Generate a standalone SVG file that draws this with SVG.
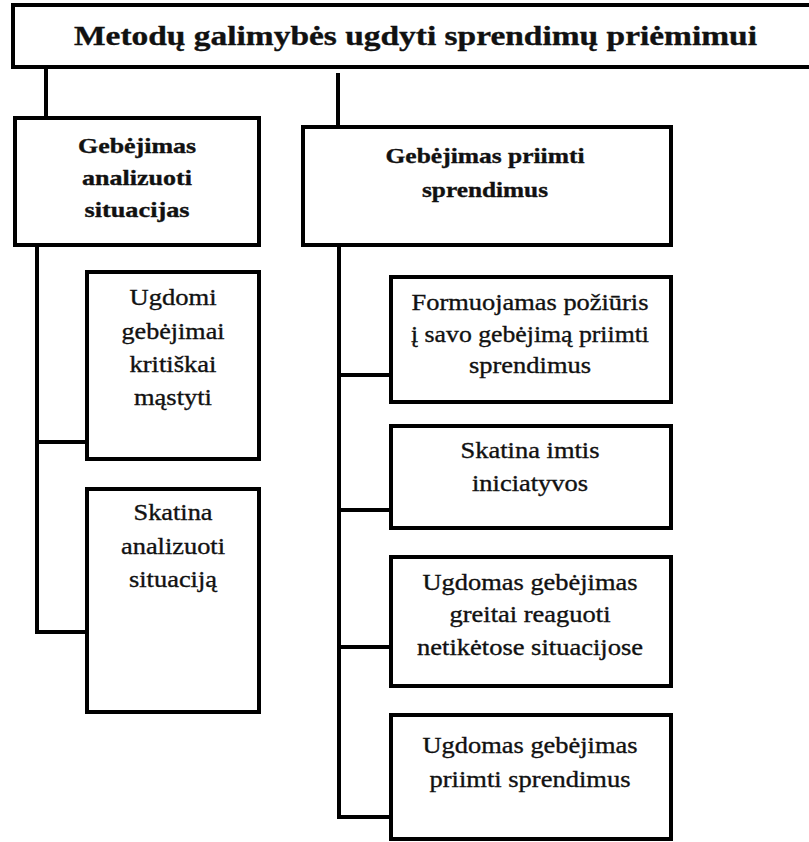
<svg xmlns="http://www.w3.org/2000/svg" width="809" height="842" viewBox="0 0 809 842">
  <style>
    .box { fill: #ffffff; stroke: #000000; stroke-width: 4; }
    .wire { fill: none; stroke: #000000; stroke-width: 4; stroke-linejoin: miter; }
    text { font-family: "Liberation Serif", "Times New Roman", serif; fill: #111111; stroke: #111111; stroke-width: 0.35px; text-anchor: middle; }
    .title { font-weight: bold; font-size: 28px; }
    .head { font-weight: bold; font-size: 22px; }
    .item { font-size: 23px; }
  </style>
  <rect width="809" height="842" fill="#ffffff"/>

  <!-- connectors -->
  <g id="connectors">
    <path class="wire" d="M46 67 V118"/>
    <path class="wire" d="M338 73 V127"/>
    <path class="wire" d="M37 245 V632 H87"/>
    <path class="wire" d="M37 442 H87"/>
    <path class="wire" d="M339 245 V817 H391"/>
    <path class="wire" d="M339 375 H391"/>
    <path class="wire" d="M339 510 H391"/>
    <path class="wire" d="M339 647 H391"/>
  </g>

  <!-- root -->
  <g id="root">
    <rect class="box" x="13" y="5" width="806" height="62"/>
    <text class="title" x="415.5" y="45" textLength="683" lengthAdjust="spacingAndGlyphs">Metodų galimybės ugdyti sprendimų priėmimui</text>
  </g>

  <!-- left branch -->
  <g id="analyse">
    <rect class="box" x="15" y="118" width="244" height="127"/>
    <text class="head" x="137" y="153" textLength="118" lengthAdjust="spacingAndGlyphs">Gebėjimas</text>
    <text class="head" x="137" y="185" textLength="110" lengthAdjust="spacingAndGlyphs">analizuoti</text>
    <text class="head" x="137" y="217" textLength="105" lengthAdjust="spacingAndGlyphs">situacijas</text>
  </g>

  <g id="critical">
    <rect class="box" x="87" y="272" width="172" height="187"/>
    <text class="item" x="173" y="305" textLength="87" lengthAdjust="spacingAndGlyphs">Ugdomi</text>
    <text class="item" x="173" y="339" textLength="103" lengthAdjust="spacingAndGlyphs">gebėjimai</text>
    <text class="item" x="173" y="372" textLength="87" lengthAdjust="spacingAndGlyphs">kritiškai</text>
    <text class="item" x="173" y="405" textLength="78" lengthAdjust="spacingAndGlyphs">mąstyti</text>
  </g>

  <g id="situation">
    <rect class="box" x="87" y="489" width="172" height="223"/>
    <text class="item" x="173" y="520" textLength="79" lengthAdjust="spacingAndGlyphs">Skatina</text>
    <text class="item" x="173" y="554" textLength="104" lengthAdjust="spacingAndGlyphs">analizuoti</text>
    <text class="item" x="173" y="587" textLength="88" lengthAdjust="spacingAndGlyphs">situaciją</text>
  </g>

  <!-- right branch -->
  <g id="decide">
    <rect class="box" x="303" y="127" width="368" height="118"/>
    <text class="head" x="485" y="163" textLength="199" lengthAdjust="spacingAndGlyphs">Gebėjimas priimti</text>
    <text class="head" x="485" y="197" textLength="126" lengthAdjust="spacingAndGlyphs">sprendimus</text>
  </g>

  <g id="attitude">
    <rect class="box" x="391" y="277" width="280" height="125"/>
    <text class="item" x="530" y="310" textLength="237" lengthAdjust="spacingAndGlyphs">Formuojamas požiūris</text>
    <text class="item" x="530" y="342" textLength="238" lengthAdjust="spacingAndGlyphs">į savo gebėjimą priimti</text>
    <text class="item" x="530" y="373" textLength="122" lengthAdjust="spacingAndGlyphs">sprendimus</text>
  </g>

  <g id="initiative">
    <rect class="box" x="391" y="426" width="280" height="102"/>
    <text class="item" x="530" y="458" textLength="139" lengthAdjust="spacingAndGlyphs">Skatina imtis</text>
    <text class="item" x="530" y="491" textLength="116" lengthAdjust="spacingAndGlyphs">iniciatyvos</text>
  </g>

  <g id="react">
    <rect class="box" x="391" y="557" width="280" height="129"/>
    <text class="item" x="530" y="590" textLength="215" lengthAdjust="spacingAndGlyphs">Ugdomas gebėjimas</text>
    <text class="item" x="530" y="622" textLength="161" lengthAdjust="spacingAndGlyphs">greitai reaguoti</text>
    <text class="item" x="530" y="655" textLength="226" lengthAdjust="spacingAndGlyphs">netikėtose situacijose</text>
  </g>

  <g id="decisions">
    <rect class="box" x="391" y="715" width="280" height="124"/>
    <text class="item" x="530" y="753" textLength="215" lengthAdjust="spacingAndGlyphs">Ugdomas gebėjimas</text>
    <text class="item" x="530" y="787" textLength="201" lengthAdjust="spacingAndGlyphs">priimti sprendimus</text>
  </g>
</svg>
